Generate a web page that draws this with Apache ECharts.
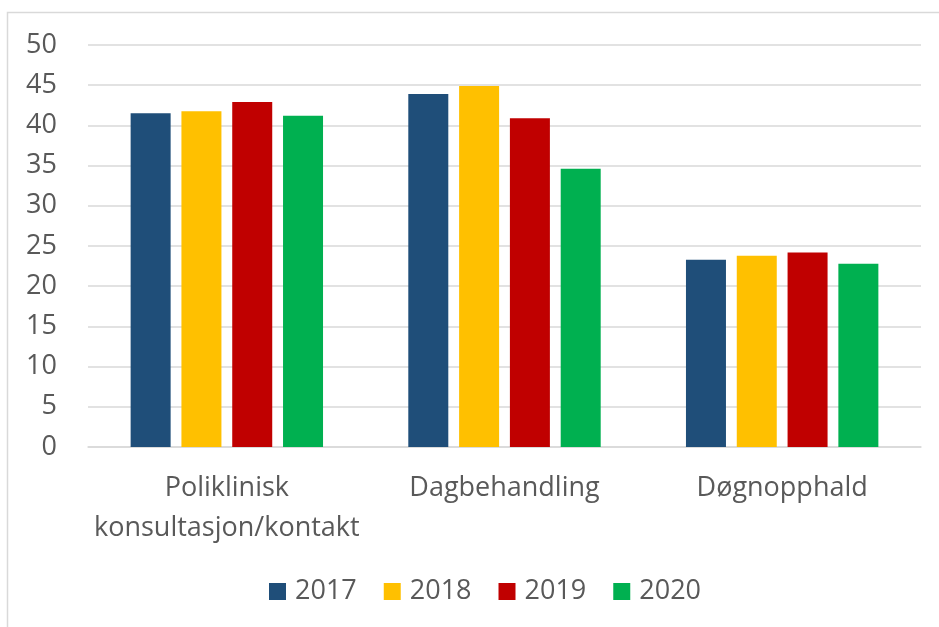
<!DOCTYPE html>
<html>
<head>
<meta charset="utf-8">
<script src="https://cdn.jsdelivr.net/npm/echarts@6/dist/echarts.min.js"></script>
<style>
  html, body { margin: 0; padding: 0; background: #fff; }
  #chart { width: 939px; height: 627px; }
</style>
</head>
<body>
<div id="chart"></div>
<script>
  // categories and yearly values
  var categories = ['Poliklinisk\nkonsultasjon/kontakt', 'Dagbehandling', 'Døgnopphald'];
  var years = ['2017', '2018', '2019', '2020'];
  var values2017 = [41.5, 43.9, 23.3];
  var values2018 = [41.75, 44.9, 23.8];
  var values2019 = [42.9, 40.9, 24.2];
  var values2020 = [41.2, 34.6, 22.8];
  var yearColors = ['#1F4E79', '#FFC000', '#C00000', '#00B050'];

  var seriesData = [values2017, values2018, values2019, values2020];
  var font = 'Open Sans';
  var textColor = '#595959';
  var gridColor = '#d9d9d9';

  var chart = echarts.init(document.getElementById('chart'));
  chart.setOption({
    animation: false,
    color: yearColors,
    graphic: [{
      type: 'rect',
      shape: { x: 7.5, y: 12.5, width: 1000, height: 1000 },
      style: { fill: 'none', stroke: gridColor, lineWidth: 1.5 },
      silent: true
    }],
    grid: { left: 88, right: 18, top: 45, bottom: 180 },
    legend: {
      data: years,
      top: 573,
      left: 264,
      icon: 'rect',
      itemWidth: 17,
      itemHeight: 17,
      itemGap: 27,
      textStyle: { fontFamily: font, fontSize: 27, color: textColor, padding: [0, 0, 0, 4] }
    },
    xAxis: {
      type: 'category',
      data: categories,
      axisTick: { show: false },
      axisLine: { lineStyle: { color: gridColor, width: 1.5 } },
      axisLabel: {
        interval: 0,
        margin: 21,
        fontFamily: font,
        fontSize: 27,
        lineHeight: 40,
        color: textColor
      }
    },
    yAxis: {
      type: 'value',
      min: 0,
      max: 50,
      interval: 5,
      axisLine: { show: false },
      axisTick: { show: false },
      axisLabel: { margin: 31, fontFamily: font, fontSize: 27, color: textColor },
      splitLine: { lineStyle: { color: gridColor, width: 1.5 } }
    },
    series: years.map(function (y, i) {
      return {
        name: y,
        type: 'bar',
        data: seriesData[i],
        barWidth: 40,
        barGap: '27%'
      };
    })
  });
  window.addEventListener('resize', chart.resize);
</script>
</body>
</html>
